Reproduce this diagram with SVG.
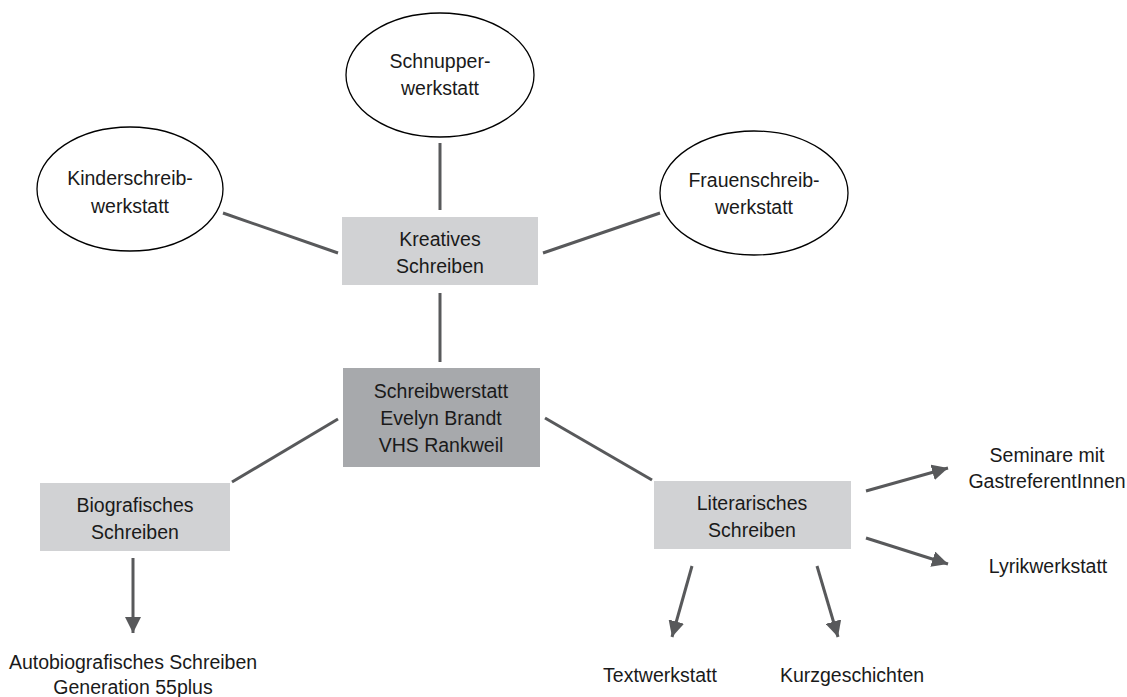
<svg xmlns="http://www.w3.org/2000/svg" width="1127" height="697" viewBox="0 0 1127 697">
<style>
text{font-family:"Liberation Sans",Arial,sans-serif;font-size:19.5px;fill:#1a1a1a;text-anchor:middle}
.light{fill:#d1d2d4}
.dark{fill:#a7a9ac}
.ell{fill:#fff;stroke:#000;stroke-width:1.3}
.con{stroke:#58595b;stroke-width:3;fill:none}
.arr{stroke:#58595b;stroke-width:3;fill:none;marker-end:url(#ah)}
</style>
<defs>
<marker id="ah" markerUnits="userSpaceOnUse" markerWidth="18" markerHeight="16" refX="16" refY="8" orient="auto">
<path d="M0,0 L16,8 L0,16 Z" fill="#58595b"/>
</marker>
</defs>
<rect width="1127" height="697" fill="#fff"/>
<g id="connectors">
<line class="con" x1="440" y1="143" x2="440" y2="210"/>
<line class="con" x1="223" y1="213" x2="338" y2="253"/>
<line class="con" x1="660" y1="213" x2="543" y2="253"/>
<line class="con" x1="440" y1="293" x2="440" y2="362"/>
<line class="con" x1="338" y1="419" x2="232" y2="482"/>
<line class="con" x1="545" y1="418" x2="652" y2="480"/>
<line class="arr" x1="133" y1="558" x2="133" y2="633"/>
<line class="arr" x1="866" y1="491" x2="948" y2="468"/>
<line class="arr" x1="866" y1="538" x2="948" y2="564"/>
<line class="arr" x1="692" y1="566" x2="672" y2="637"/>
<line class="arr" x1="817" y1="566" x2="838" y2="637"/>
</g>
<g id="schnupper">
<ellipse class="ell" cx="440" cy="75" rx="94" ry="62"/>
<text x="440" y="68">Schnupper-</text>
<text x="440" y="95">werkstatt</text>
</g>
<g id="kinder">
<ellipse class="ell" cx="130" cy="189" rx="93" ry="62"/>
<text x="130" y="185">Kinderschreib-</text>
<text x="130" y="213">werkstatt</text>
</g>
<g id="frauen">
<ellipse class="ell" cx="754" cy="193" rx="94" ry="62"/>
<text x="754" y="187">Frauenschreib-</text>
<text x="754" y="214">werkstatt</text>
</g>
<g id="kreatives">
<rect class="light" x="342" y="217" width="196" height="68"/>
<text x="440" y="246">Kreatives</text>
<text x="440" y="273">Schreiben</text>
</g>
<g id="center">
<rect class="dark" x="343" y="368" width="197" height="99"/>
<text x="441" y="398">Schreibwerstatt</text>
<text x="441" y="425">Evelyn Brandt</text>
<text x="441" y="452">VHS Rankweil</text>
</g>
<g id="biografisches">
<rect class="light" x="40" y="483" width="190" height="68"/>
<text x="135" y="512">Biografisches</text>
<text x="135" y="539">Schreiben</text>
</g>
<g id="literarisches">
<rect class="light" x="654" y="481" width="197" height="68"/>
<text x="752" y="510">Literarisches</text>
<text x="752" y="537">Schreiben</text>
</g>
<g id="autobio">
<text x="133" y="669">Autobiografisches Schreiben</text>
<text x="133" y="694">Generation 55plus</text>
</g>
<g id="seminare">
<text x="1047" y="462">Seminare mit</text>
<text x="1047" y="488">GastreferentInnen</text>
</g>
<g id="lyrik">
<text x="1048" y="573">Lyrikwerkstatt</text>
</g>
<g id="textwerkstatt">
<text x="660" y="682">Textwerkstatt</text>
</g>
<g id="kurz">
<text x="852" y="682">Kurzgeschichten</text>
</g>
</svg>
